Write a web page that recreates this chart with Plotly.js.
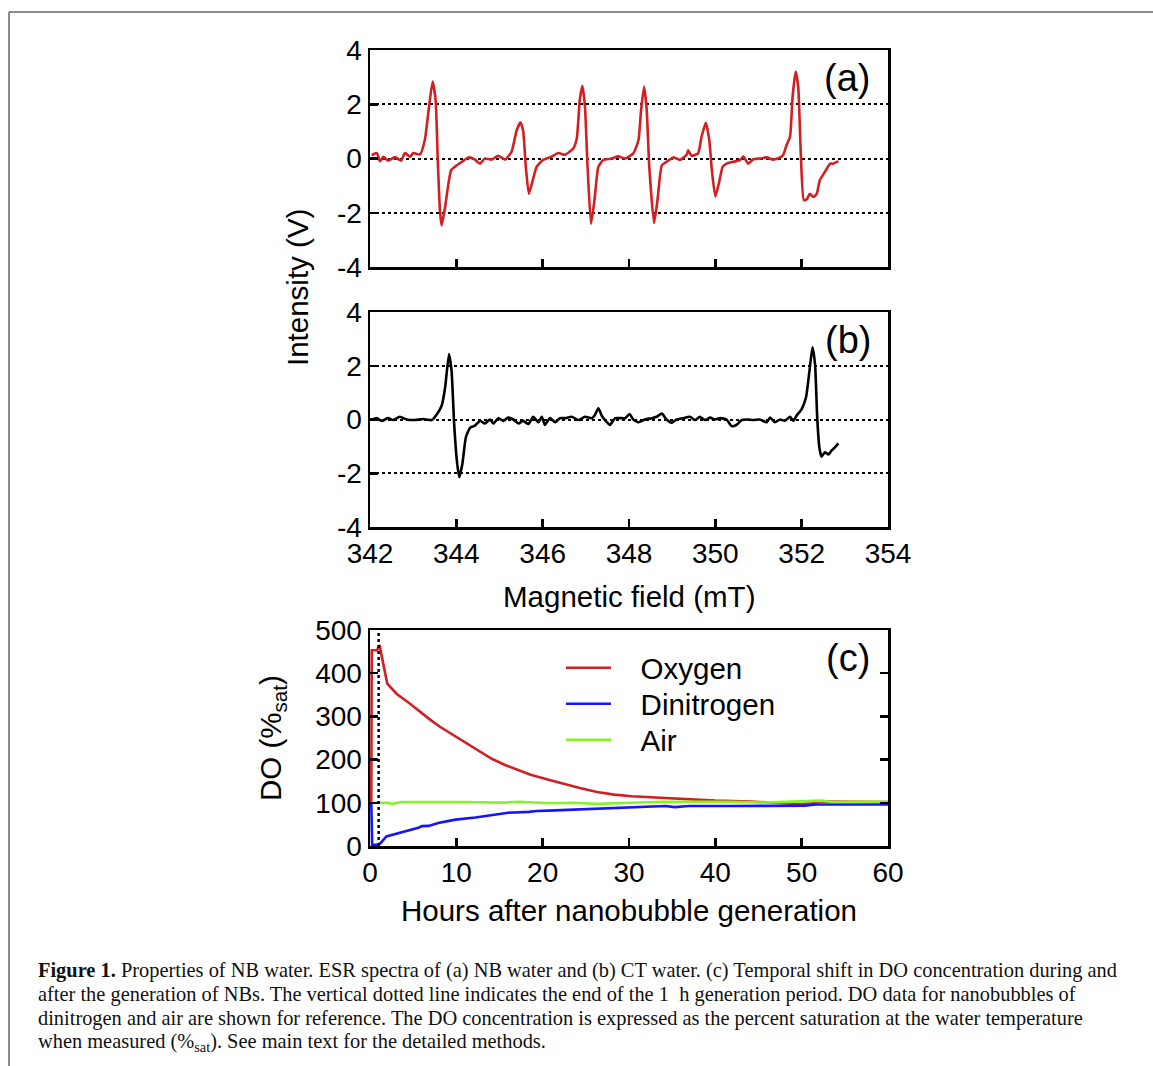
<!DOCTYPE html>
<html>
<head>
<meta charset="utf-8">
<script src="https://cdn.plot.ly/plotly-3.0.1.min.js"></script>
<style>html,body{margin:0;padding:0;background:#fff;} #chart{width:1153px;height:1066px;}</style>
</head>
<body>
<div id="chart"></div>
<script>
// ---------- DATA ----------
// (a) ESR spectrum of NB water
const FIELD_A = [342.04,342.16,342.23,342.31,342.42,342.58,342.72,342.81,342.93,343.0,343.16,343.27,343.35,343.45,343.52,343.57,343.62,343.66,343.74,343.88,344.01,344.16,344.28,344.43,344.55,344.66,344.82,344.97,345.13,345.28,345.40,345.49,345.55,345.61,345.68,345.75,345.86,346.01,346.21,346.36,346.52,346.63,346.71,346.79,346.86,346.92,346.98,347.04,347.12,347.20,347.29,347.40,347.60,347.75,347.91,348.10,348.22,348.28,348.35,348.41,348.47,348.58,348.66,348.76,348.87,349.03,349.18,349.34,349.37,349.45,349.60,349.68,349.78,349.86,349.92,350.0,350.08,350.17,350.26,350.42,350.57,350.65,350.76,350.88,351.03,351.19,351.34,351.50,351.57,351.65,351.73,351.79,351.86,351.92,351.98,352.05,352.12,352.19,352.27,352.35,352.42,352.54,352.66,352.73,352.85];
const INTENSITY_A = [0.12,0.2,-0.1,0.06,-0.08,0.05,-0.08,0.2,0.06,0.2,0.15,0.68,1.67,2.84,2.16,-0.06,-1.91,-2.47,-1.79,-0.43,-0.25,-0.09,0.04,-0.04,-0.19,0.0,-0.04,0.1,-0.04,0.25,1.05,1.33,0.99,-0.31,-1.3,-0.93,-0.31,-0.05,0.07,0.2,0.14,0.26,0.37,0.74,2.16,2.68,1.91,-0.31,-2.41,-1.54,-0.31,-0.06,0.0,0.08,0.0,0.19,0.68,1.79,2.65,1.79,-0.31,-2.38,-1.54,-0.25,-0.12,0.04,-0.05,0.15,0.3,0.1,0.19,0.8,1.32,0.68,-0.43,-1.4,-0.93,-0.31,-0.19,-0.12,-0.06,0.07,-0.19,-0.03,0.0,0.04,-0.04,0.04,0.12,0.49,0.8,2.28,3.21,2.65,0.19,-1.54,-1.5,-1.3,-1.42,-1.3,-0.8,-0.49,-0.19,-0.19,-0.1];

// (b) ESR spectrum of CT water
const FIELD_B = [342.04,342.16,342.27,342.42,342.54,342.69,342.85,343.04,343.23,343.43,343.55,343.66,343.74,343.83,343.89,343.95,344.02,344.07,344.14,344.22,344.32,344.43,344.55,344.66,344.78,344.86,344.97,345.09,345.20,345.32,345.44,345.55,345.67,345.78,345.90,345.98,346.05,346.17,346.29,346.40,346.52,346.67,346.83,346.98,347.14,347.21,347.29,347.37,347.46,347.56,347.68,347.83,347.91,348.01,348.10,348.22,348.37,348.53,348.64,348.76,348.87,348.99,349.10,349.26,349.41,349.53,349.64,349.76,349.88,349.99,350.11,350.26,350.38,350.49,350.61,350.73,350.88,351.03,351.19,351.27,351.38,351.50,351.61,351.73,351.81,351.88,352.00,352.10,352.18,352.25,352.31,352.36,352.41,352.46,352.54,352.62,352.69,352.77,352.85];
const INTENSITY_B = [-0.02,0.05,-0.05,0.05,-0.02,0.1,0.0,-0.02,0.02,-0.02,0.2,0.51,1.19,2.44,1.8,-0.17,-1.65,-2.15,-1.65,-0.67,-0.3,-0.23,-0.05,-0.15,0.0,-0.15,0.05,-0.05,0.07,0.0,-0.15,-0.05,-0.17,0.1,-0.1,0.1,-0.2,0.05,-0.1,0.05,0.05,0.1,-0.02,0.1,0.05,0.17,0.42,0.14,-0.05,-0.2,0.05,0.05,0.05,0.2,0.0,-0.1,0.0,0.05,0.1,0.22,0.0,-0.12,0.0,0.05,0.1,-0.02,0.1,-0.02,0.07,0.0,0.05,0.0,-0.25,-0.2,-0.02,0.0,-0.02,0.0,-0.1,0.07,-0.1,0.0,-0.05,0.1,-0.05,0.14,0.39,0.82,1.8,2.69,2.05,0.07,-1.04,-1.38,-1.22,-1.3,-1.16,-1.04,-0.89];

// (c) DO concentration vs hours
const HOURS_O2 = [0.15,0.2,0.8,1.1,2.0,3.1,4.6,5.8,7.0,8.1,10.0,12.7,14.1,15.7,18.6,20.9,22.5,24.3,26.3,28.3,30.3,33.0,36.0,40.0,44.0,48.0,50.0,51.0,52.3,56.0,60.0];
const DO_O2    = [100,453,453,465,376,352,330,310,292,276,253,220,202,187,165,152,143,134,125,119,115,112,108,105,103,99,97,98,103,102.5,102];
const HOURS_N2 = [0.15,0.25,0.8,1.2,1.9,3.2,4.7,5.7,6.0,6.8,7.9,9.9,12.2,14.2,16.0,18.4,19.3,20.7,24.5,28.4,32.2,34.2,35.3,36.9,41.7,47.7,50.4,51.6,55.0,60.0];
const DO_N2    = [100,3,3,6,22,29,37,43,46,46.5,53,61,66,72,77,79,81,82,85,87.5,91,92.6,90,92.6,92.6,92.6,93,96,96,96];
const HOURS_AIR = [0.15,2.0,2.6,3.7,10,15.6,17.1,21,23.3,26.4,30.3,34.1,41.8,45.6,52.3,53.5,60];
const DO_AIR    = [100,100,97.5,101.8,101.8,100.5,102.6,99,100,97.5,100,102.6,102.6,100.5,105,102,102.6];
const GEN_END_H = 1;

// ticks / labels
const ESR_TICKS = [-4,-2,0,2,4];
const ESR_TICKTEXT = ['-4','-2','0','2','4'];
const FIELD_TICKS = [342,344,346,348,350,352,354];
const DO_TICKS = [0,100,200,300,400,500];
const HOUR_TICKS = [0,10,20,30,40,50,60];
const SERIES_NAMES = ['Oxygen','Dinitrogen','Air'];
const CAPTION_LINES = [
  '<b>Figure 1.</b> Properties of NB water. ESR spectra of (a) NB water and (b) CT water. (c) Temporal shift in DO concentration during and',
  'after the generation of NBs. The vertical dotted line indicates the end of the 1  h generation period. DO data for nanobubbles of',
  'dinitrogen and air are shown for reference. The DO concentration is expressed as the percent saturation at the water temperature',
  'when measured (%<sub>sat</sub>). See main text for the detailed methods.'
];

// ---------- STYLE ----------
const RED = '#d21f22', BLUE = '#1414ff', GREEN = '#82f52a';
const FONT = 'Liberation Sans, Arial, sans-serif';
const FS = 29.5;      // titles / legend
const TFS = 28;       // tick labels
const W = 1153, H = 1066;
const px = v => v / W;
const py = v => 1 - v / H;
const NB = '\u00a0\u00a0\u00a0';

const XDOM = [px(370), px(888)];
const YDOM_A = [py(267), py(50)];
const YDOM_B = [py(527), py(312)];
const YDOM_C = [py(846), py(630)];

const esrLine = c => ({color: c, width: 2.6, shape: 'spline', smoothing: 0.5});
const traces = [
  {x: FIELD_A, y: INTENSITY_A, xaxis: 'x', yaxis: 'y', mode: 'lines', line: esrLine(RED), showlegend: false},
  {x: FIELD_B, y: INTENSITY_B, xaxis: 'x2', yaxis: 'y2', mode: 'lines', line: esrLine('#000'), showlegend: false},
  {x: HOURS_O2, y: DO_O2, xaxis: 'x3', yaxis: 'y3', mode: 'lines', name: NB + SERIES_NAMES[0], legend: 'legend', line: {color: RED, width: 2.6}},
  {x: HOURS_N2, y: DO_N2, xaxis: 'x3', yaxis: 'y3', mode: 'lines', name: NB + SERIES_NAMES[1], legend: 'legend2', line: {color: BLUE, width: 2.6}},
  {x: HOURS_AIR, y: DO_AIR, xaxis: 'x3', yaxis: 'y3', mode: 'lines', name: NB + SERIES_NAMES[2], legend: 'legend3', line: {color: GREEN, width: 2.6}}
];

const axBase = {
  showline: true, linecolor: '#000', linewidth: 2.5,
  ticks: 'inside', ticklen: 8, tickwidth: 2.5, tickcolor: '#000',
  zeroline: false, showgrid: false,
  tickfont: {family: FONT, size: TFS, color: '#000'},
  fixedrange: true
};
const esrY = Object.assign({}, axBase, {
  range: [-4, 4], tickmode: 'array', tickvals: ESR_TICKS, ticktext: ESR_TICKTEXT,
  showgrid: true, gridcolor: '#000', gridwidth: 2, griddash: 'dot', mirror: true
});
const fieldX = Object.assign({}, axBase, {
  range: [342, 354], tickmode: 'array', tickvals: FIELD_TICKS, mirror: true
});

const legendAt = yc => ({
  x: px(561), y: py(yc), xanchor: 'left', yanchor: 'middle',
  bgcolor: 'rgba(0,0,0,0)', borderwidth: 0,
  font: {family: FONT, size: FS, color: '#000'},
  itemwidth: 45
});

const annBase = {xref: 'paper', yref: 'paper', showarrow: false, xanchor: 'center', yanchor: 'middle'};
const capAnn = CAPTION_LINES.map((t, i) => Object.assign({}, annBase, {
  text: t, x: px(36), y: py(970 + 24 * i), xanchor: 'left', align: 'left',
  font: {family: 'Liberation Serif, Times New Roman, serif', size: 20.4, color: '#111'}
}));

const layout = {
  width: W, height: H,
  margin: {l: 0, r: 0, t: 0, b: 0},
  paper_bgcolor: '#fff', plot_bgcolor: 'rgba(0,0,0,0)',
  font: {family: FONT, size: FS, color: '#000'},
  xaxis: Object.assign({}, fieldX, {domain: XDOM, anchor: 'y', showticklabels: false}),
  yaxis: Object.assign({}, esrY, {domain: YDOM_A, anchor: 'x'}),
  xaxis2: Object.assign({}, fieldX, {domain: XDOM, anchor: 'y2'}),
  yaxis2: Object.assign({}, esrY, {domain: YDOM_B, anchor: 'x2'}),
  xaxis3: Object.assign({}, axBase, {domain: XDOM, anchor: 'y3', range: [0, 60], tickmode: 'array', tickvals: HOUR_TICKS, mirror: true}),
  yaxis3: Object.assign({}, axBase, {domain: YDOM_C, anchor: 'x3', range: [0, 500], tickmode: 'array', tickvals: DO_TICKS, mirror: 'ticks'}),
  showlegend: true,
  legend: legendAt(668),
  legend2: legendAt(704),
  legend3: legendAt(740),
  shapes: [
    {type: 'line', xref: 'x3', yref: 'y3', x0: GEN_END_H, x1: GEN_END_H, y0: 0, y1: 500,
     line: {color: '#000', width: 2.5, dash: 'dot'}},
    {type: 'line', xref: 'paper', yref: 'paper', x0: px(9), x1: 1, y0: py(12), y1: py(12),
     line: {color: '#8a8a8a', width: 2}},
    {type: 'line', xref: 'paper', yref: 'paper', x0: px(9), x1: px(9), y0: py(12), y1: 0,
     line: {color: '#8a8a8a', width: 2}}
  ],
  annotations: [
    Object.assign({}, annBase, {text: '(a)', x: px(847), y: py(78), font: {family: FONT, size: 38}}),
    Object.assign({}, annBase, {text: '(b)', x: px(848), y: py(340), font: {family: FONT, size: 38}}),
    Object.assign({}, annBase, {text: '(c)', x: px(848), y: py(658), font: {family: FONT, size: 38}}),
    Object.assign({}, annBase, {text: 'Intensity (V)', x: px(297), y: py(288), textangle: -90, font: {family: FONT, size: FS}}),
    Object.assign({}, annBase, {text: 'Magnetic field (mT)', x: px(629), y: py(596), font: {family: FONT, size: FS}}),
    Object.assign({}, annBase, {text: 'Hours after nanobubble generation', x: px(629), y: py(910), font: {family: FONT, size: FS}}),
    Object.assign({}, annBase, {text: 'DO (%<sub>sat</sub>)', x: px(272), y: py(738), textangle: -90, font: {family: FONT, size: FS}})
  ].concat(capAnn)
};

Plotly.newPlot('chart', traces, layout, {displayModeBar: false, staticPlot: true});
</script>
</body>
</html>
